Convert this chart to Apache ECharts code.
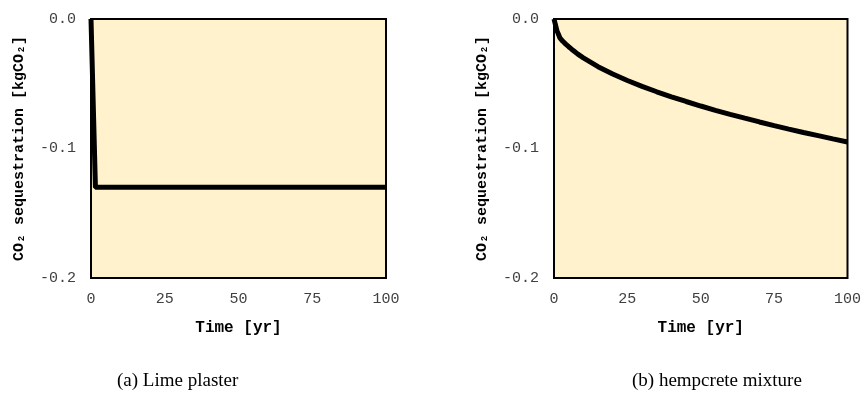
<!DOCTYPE html>
<html>
<head>
<meta charset="utf-8">
<script src="https://cdn.jsdelivr.net/npm/echarts@6/dist/echarts.min.js"></script>
<style>
html,body{margin:0;padding:0;background:#fff;}
#chart{width:864px;height:402px;}
</style>
</head>
<body>
<div id="chart"></div>
<script>
// Data
var xTicks = [0, 25, 50, 75, 100];
var yTicks = [0.0, -0.1, -0.2];
var limeYears = [0, 0.5, 1.5, 100];
var limeValues = [0, 0, -0.13, -0.13];
var hempYears = [0, 1, 2, 3, 4, 5, 6, 7, 8, 9, 10, 15, 20, 25, 30, 35, 40, 45, 50, 55, 60, 65, 70, 75, 80, 85, 90, 95, 100];
var hempValues = [0, -0.009, -0.0145, -0.0172, -0.0194, -0.0214, -0.0233, -0.0251, -0.0269, -0.0285, -0.0300, -0.0368, -0.0425, -0.0475, -0.0520, -0.0562, -0.0601, -0.0637, -0.0672, -0.0705, -0.0736, -0.0766, -0.0795, -0.0823, -0.0850, -0.0876, -0.0901, -0.0926, -0.0950];
var captions = ['(a) Lime plaster', '(b) hempcrete mixture'];
var xTitle = 'Time [yr]';
var yTitle = 'CO\u2082 sequestration [kgCO\u2082]';

function pairs(xs, ys){ return xs.map(function(x,i){ return [x, ys[i]]; }); }

var mono = "'Liberation Mono', 'DejaVu Sans Mono', monospace";
var chart = echarts.init(document.getElementById('chart'), null, {renderer:'canvas'});

function xAxisDef(gi){
  return {
    type:'value', gridIndex:gi, min:xTicks[0], max:xTicks[xTicks.length-1], interval:25,
    axisLine:{show:false}, axisTick:{show:false}, splitLine:{show:false},
    axisLabel:{fontFamily:mono, fontSize:15, color:'#404040', margin:14},
    name:xTitle, nameLocation:'middle', nameGap:42,
    nameTextStyle:{fontFamily:mono, fontSize:16, fontWeight:'bold', color:'#000'}
  };
}
function yAxisDef(gi){
  return {
    type:'value', gridIndex:gi, min:yTicks[2], max:yTicks[0], interval:0.1,
    axisLine:{show:false}, axisTick:{show:false}, splitLine:{show:false},
    axisLabel:{fontFamily:mono, fontSize:15, color:'#404040', margin:15,
      formatter:function(v){ return v.toFixed(1); }},
    name:yTitle, nameLocation:'middle', nameGap:64, nameRotate:90,
    nameTextStyle:{fontFamily:mono, fontSize:15, fontWeight:'bold', color:'#000'}
  };
}

var option = {
  backgroundColor:'#ffffff',
  animation:false,
  grid:[
    {left:91, top:19, width:295, height:259, show:true, backgroundColor:'#FFF2CC', borderColor:'#000', borderWidth:2},
    {left:554, top:19, width:294, height:259, show:true, backgroundColor:'#FFF2CC', borderColor:'#000', borderWidth:2}
  ],
  xAxis:[xAxisDef(0), xAxisDef(1)],
  yAxis:[yAxisDef(0), yAxisDef(1)],
  series:[
    {type:'line', xAxisIndex:0, yAxisIndex:0, data:pairs(limeYears, limeValues), showSymbol:false, symbol:'none',
      lineStyle:{color:'#000', width:5}, clip:true},
    {type:'line', xAxisIndex:1, yAxisIndex:1, data:pairs(hempYears, hempValues), showSymbol:false, symbol:'none',
      lineStyle:{color:'#000', width:5}, clip:true}
  ],
  graphic:[
    {type:'text', left:117, top:372, style:{text:captions[0], font:"19px 'Liberation Serif', 'DejaVu Serif', serif", fill:'#000'}},
    {type:'text', left:632, top:372, style:{text:captions[1], font:"19px 'Liberation Serif', 'DejaVu Serif', serif", fill:'#000'}}
  ]
};
chart.setOption(option);
</script>
</body>
</html>
